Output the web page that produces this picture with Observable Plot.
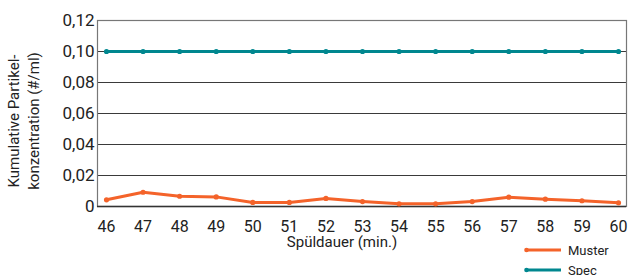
<!DOCTYPE html>
<html>
<head>
<meta charset="utf-8">
<script src="https://cdn.jsdelivr.net/npm/d3@7"></script>
<script src="https://cdn.jsdelivr.net/npm/@observablehq/plot@0.6"></script>
<style>
  html, body { margin: 0; padding: 0; background: #fff; }
  body { font-family: Roboto, "Noto Sans", sans-serif; color: #222; }
  #wrap { position: relative; width: 629px; height: 275px; overflow: hidden; }
  #ylabel { position: absolute; left: -76px; top: 101px; width: 200px; height: 40px;
    transform: rotate(-90deg); transform-origin: 50% 50%; text-align: center;
    font-size: 15px; line-height: 20px; white-space: nowrap; }
  #xlabel { position: absolute; left: 242px; top: 235px; width: 200px; text-align: center;
    font-size: 15px; line-height: 15px; white-space: nowrap; }
  #legend { position: absolute; left: 524px; top: 240px; font-size: 13px; }
  .item { display: flex; align-items: center; height: 20px; }
  .item svg { margin-right: 6px; }
</style>
</head>
<body>
<div id="wrap">
  <div id="chart"></div>
  <div id="ylabel">Kumulative Partikel-<br>konzentration (#/ml)</div>
  <div id="xlabel">Spüldauer (min.)</div>
  <div id="legend"></div>
</div>
<script>
const minutes = [46, 47, 48, 49, 50, 51, 52, 53, 54, 55, 56, 57, 58, 59, 60];
const muster = [0.0043, 0.0092, 0.0066, 0.0062, 0.0026, 0.0026, 0.0052, 0.0032, 0.0017, 0.0017, 0.0032, 0.0060, 0.0047, 0.0037, 0.0024];
const spec = [0.10, 0.10, 0.10, 0.10, 0.10, 0.10, 0.10, 0.10, 0.10, 0.10, 0.10, 0.10, 0.10, 0.10, 0.10];
const yTicks = [0, 0.02, 0.04, 0.06, 0.08, 0.10, 0.12];
const gridTicks = [0.02, 0.04, 0.06, 0.08, 0.10];
const seriesNames = ["Muster", "Spec"];
const seriesColors = ["#F4632A", "#00878F"];

const rows = [];
minutes.forEach((m, i) => {
  rows.push({min: m, value: muster[i], series: seriesNames[0]});
  rows.push({min: m, value: spec[i], series: seriesNames[1]});
});

const fmt = d => d === 0 ? "0" : d.toFixed(2).replace(".", ",");

const chart = Plot.plot({
  width: 629,
  height: 275,
  marginTop: 20,
  marginBottom: 69,
  marginLeft: 97,
  marginRight: 3,
  style: {fontFamily: "Roboto, sans-serif", color: "#222", background: "transparent"},
  x: {domain: [46, 60], range: [106, 618], label: null},
  y: {domain: [0, 0.12], label: null},
  color: {domain: seriesNames, range: seriesColors},
  marks: [
    Plot.ruleY(gridTicks, {stroke: "#3a3a3a", strokeWidth: 1.2}),
    Plot.frame({stroke: "#777", strokeWidth: 1.2}),
    Plot.ruleY([0], {stroke: "#333", strokeWidth: 1.5}),
    Plot.axisX({ticks: minutes, tickSize: 0, tickPadding: 14, tickFormat: d => String(d), fontSize: 16, label: null}),
    Plot.axisY({ticks: yTicks, tickSize: 0, tickPadding: 3, tickFormat: fmt, fontSize: 17, label: null}),
    Plot.line(rows, {x: "min", y: "value", z: "series", stroke: "series", strokeWidth: 3}),
    Plot.dot(rows, {x: "min", y: "value", fill: "series", r: 2.6})
  ]
});
document.getElementById("chart").appendChild(chart);

const legend = document.getElementById("legend");
seriesNames.forEach((name, i) => {
  const item = document.createElement("div");
  item.className = "item";
  item.innerHTML = `<svg width="38" height="10"><line x1="2" x2="37" y1="5" y2="5" stroke="${seriesColors[i]}" stroke-width="3"/><circle cx="2.5" cy="5" r="2.3" fill="${seriesColors[i]}"/></svg><span>${name}</span>`;
  legend.appendChild(item);
});
</script>
</body>
</html>
